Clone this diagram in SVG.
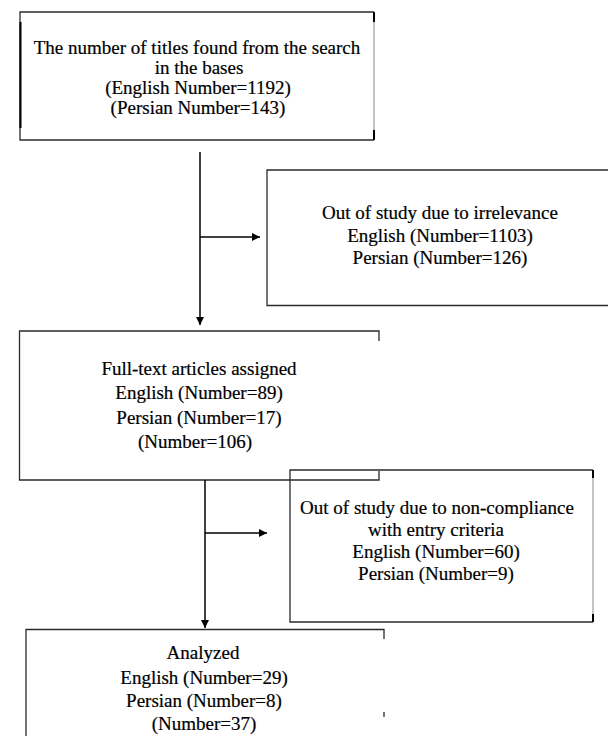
<svg xmlns="http://www.w3.org/2000/svg" width="608" height="736" viewBox="0 0 608 736">
<style>
.box{fill:none;stroke:#2a2a2a;stroke-width:1.3}
.side{fill:none;stroke:#000;stroke-width:2}
.light{fill:none;stroke:#888;stroke-width:1}
.conn{fill:none;stroke:#000;stroke-width:1.5}
text{font-family:"Liberation Serif","Times New Roman",serif;font-size:19px;fill:#000;stroke:#000;stroke-width:0.2;text-anchor:middle}
</style>
<defs>
<marker id="ah" viewBox="0 0 10 10" refX="10" refY="5" markerWidth="8" markerHeight="8" markerUnits="userSpaceOnUse" orient="auto">
<path d="M0,0 L10,5 L0,10 z" fill="#000"/>
</marker>
</defs>
<rect width="608" height="736" fill="#fff"/>

<g id="n1">
<path class="box" d="M374,12 H20 V140 H374"/>
<path class="light" d="M374,12 V140"/>
<path class="side" d="M20.5,22 V128"/>
<path class="side" d="M374,12 V22 M374,130 V140"/>
<text x="197" y="54">The number of titles found from the search</text>
<text x="199" y="74">in the bases</text>
<text x="198" y="94">(English Number=1192)</text>
<text x="198" y="114">(Persian Number=143)</text>
</g>

<g id="n2">
<path class="box" d="M612,170 H267 V305.5 H612"/>
<text x="440" y="219">Out of study due to irrelevance</text>
<text x="440" y="242">English (Number=1103)</text>
<text x="440" y="264">Persian (Number=126)</text>
</g>

<g id="n3">
<path class="box" d="M379,341 V331 H19.5 V480 H379 V471"/>
<text x="199" y="375">Full-text articles assigned</text>
<text x="199" y="399">English (Number=89)</text>
<text x="199" y="424">Persian (Number=17)</text>
<text x="195" y="448">(Number=106)</text>
</g>

<g id="n4">
<path class="box" d="M593,470 H290 V622 H593"/>
<path class="light" d="M593,470 V622"/>
<path class="side" d="M593,470 V478 M593,614 V622"/>
<text x="437" y="514">Out of study due to non-compliance</text>
<text x="436" y="536">with entry criteria</text>
<text x="436" y="558">English (Number=60)</text>
<text x="436" y="580">Persian (Number=9)</text>
</g>

<g id="n5">
<path class="box" d="M384,639 V629.5 H26 V740"/>
<path class="box" d="M384,712 V717"/>
<text x="203" y="659">Analyzed</text>
<text x="204" y="684">English (Number=29)</text>
<text x="204" y="707">Persian (Number=8)</text>
<text x="204" y="730">(Number=37)</text>
</g>

<g id="connectors">
<path class="conn" d="M200,152 V325" marker-end="url(#ah)"/>
<path class="conn" d="M200,237 H260" marker-end="url(#ah)"/>
<path class="conn" d="M205,480 V628" marker-end="url(#ah)"/>
<path class="conn" d="M205,533 H267" marker-end="url(#ah)"/>
</g>
</svg>
